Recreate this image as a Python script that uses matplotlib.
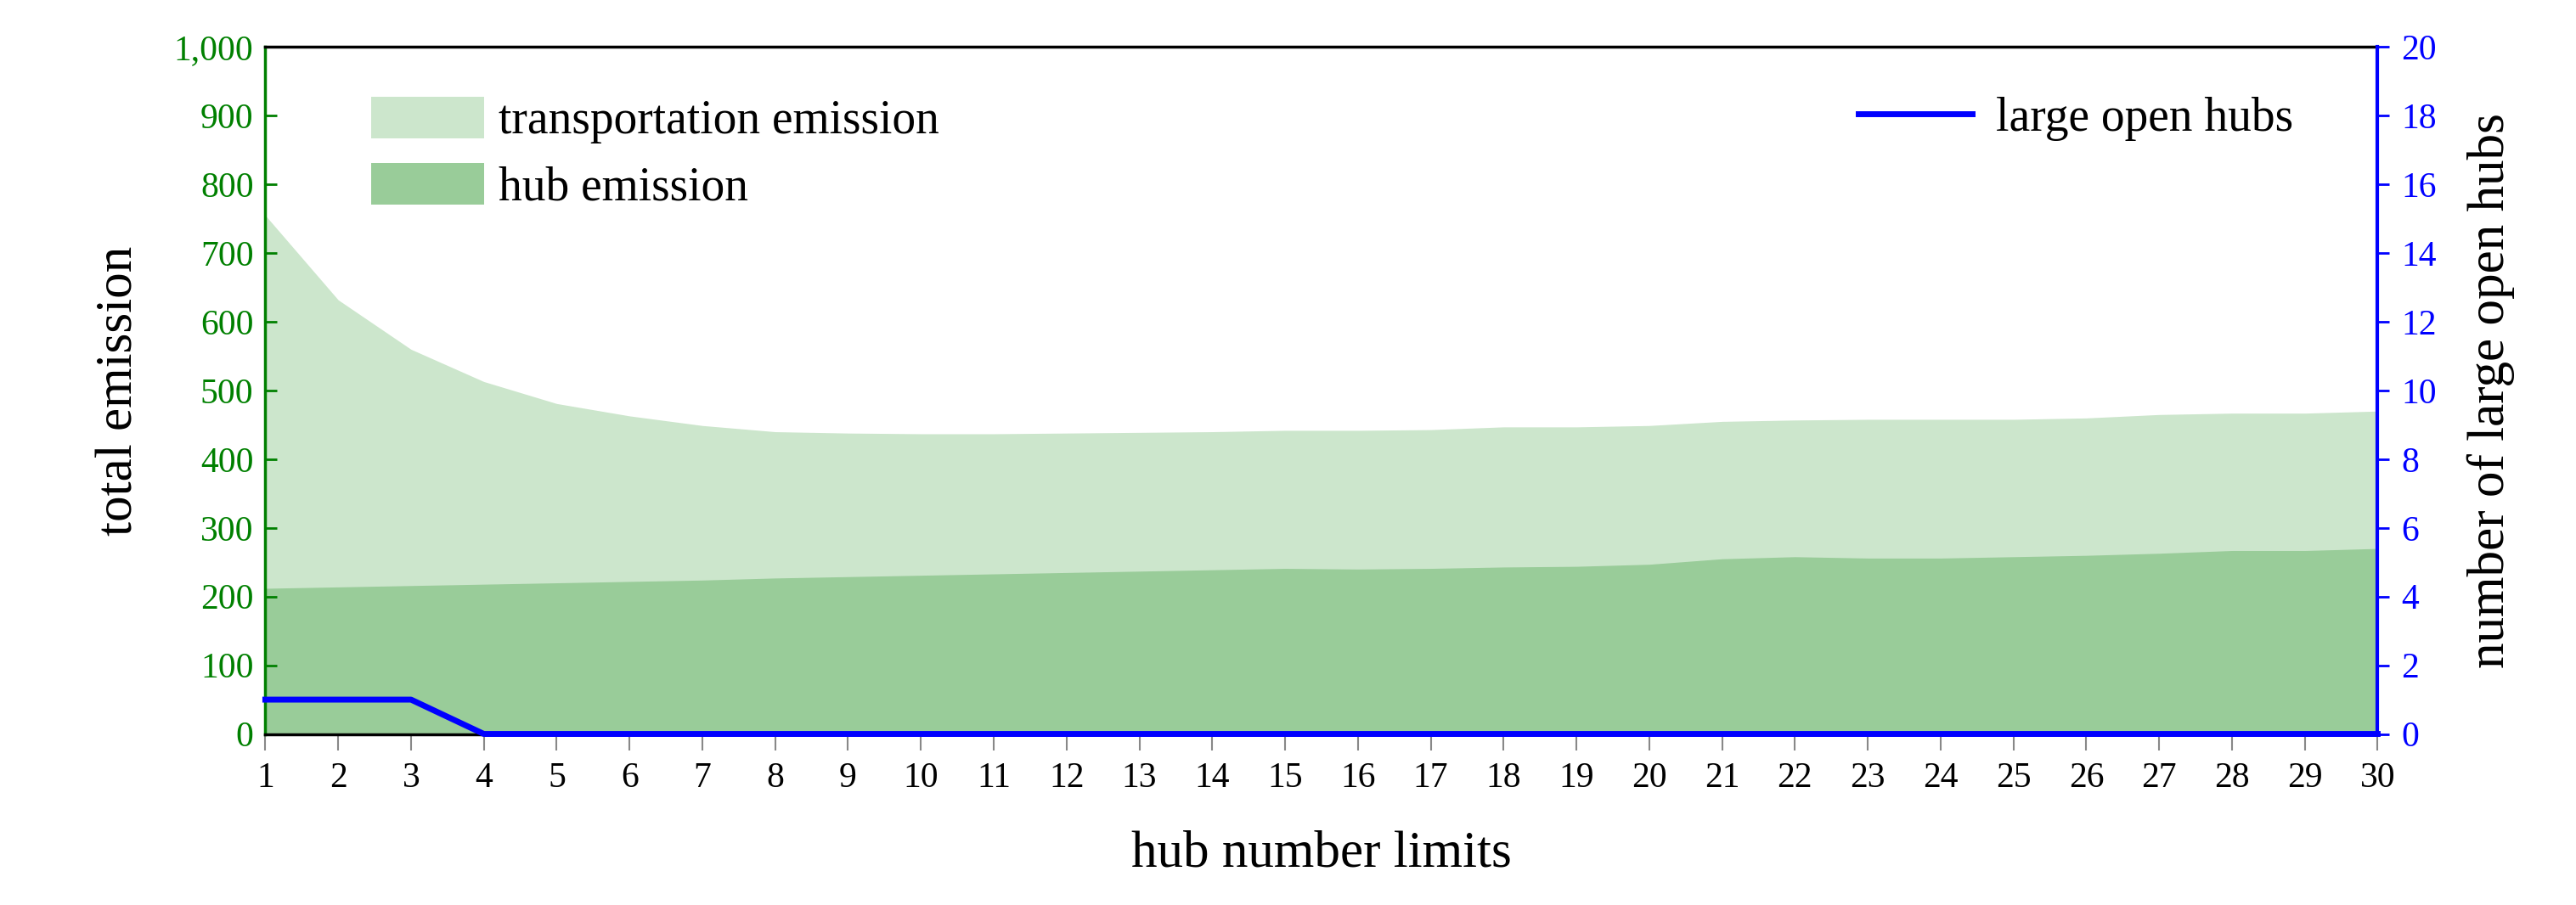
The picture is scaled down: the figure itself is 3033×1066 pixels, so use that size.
import matplotlib
matplotlib.use("Agg")
import matplotlib.pyplot as plt
import numpy as np

GREEN = "#008000"
BLUE = "#0000FF"
LIGHT = "#CCE6CC"
MID = "#99CC99"

hub_limits = list(range(1, 31))
total_emission = [755, 632, 560, 513, 481, 463, 449, 440, 438, 437, 437, 438, 439, 440, 442,
                  442, 443, 447, 447, 449, 455, 457, 458, 458, 458, 460, 465, 467, 467, 470]
hub_emission = [212, 214, 216, 218, 220, 222, 224, 227, 229, 231, 233, 235, 237, 239, 241,
                240, 241, 243, 244, 247, 255, 258, 256, 256, 258, 260, 263, 267, 267, 270]
large_open_hubs = [1, 1, 1] + [0] * 27

plt.rcParams["font.family"] = ["Liberation Serif", "DejaVu Serif"]

fig = plt.figure(figsize=(30.33, 10.66), dpi=100)
ax = fig.add_axes([0.103, 0.189, 0.82, 0.759])
x = np.array(hub_limits)
ax.fill_between(x, 0, total_emission, color=LIGHT, linewidth=0, label="transportation emission")
ax.fill_between(x, 0, hub_emission, color=MID, linewidth=0, label="hub emission")
ax.set_xlim(1, 30)
ax.set_ylim(0, 1000)
ax.set_xticks(x)
ax.set_xticklabels([str(v) for v in hub_limits], fontsize=30)
ax.set_yticks(np.arange(0, 1001, 100))
ax.set_yticklabels([f"{v:,}" for v in range(0, 1001, 100)], fontsize=30, color=GREEN)
ax.tick_params(axis="y", colors=GREEN, length=10, width=2, direction="in", labelcolor=GREEN, pad=10)
ax.tick_params(axis="x", colors="#888888", length=14, width=1.5, direction="out", labelcolor="black", pad=10)
ax.spines["left"].set_color(GREEN)
ax.spines["left"].set_linewidth(2.5)
ax.spines["top"].set_linewidth(2.5)
ax.spines["bottom"].set_linewidth(2.5)
ax.spines["right"].set_visible(False)
ax.set_xlabel("hub number limits", fontsize=44, labelpad=30)
ax.set_ylabel("total emission", fontsize=44, labelpad=26)
ax.legend(loc="upper left", bbox_to_anchor=(0.03, 0.99), frameon=False, fontsize=40,
          handlelength=2.4, handleheight=1.0, labelspacing=0.4, handletextpad=0.3)

ax2 = ax.twinx()
ax2.plot(x, large_open_hubs, color=BLUE, linewidth=5, label="large open hubs", clip_on=False)
ax2.set_ylim(0, 20)
ax2.set_yticks(np.arange(0, 21, 2))
ax2.tick_params(axis="y", colors=BLUE, length=10, width=2, direction="out", labelsize=30,
                labelcolor=BLUE, pad=10)
ax2.spines["right"].set_color(BLUE)
ax2.spines["right"].set_linewidth(3)
ax2.spines["left"].set_visible(False)
ax2.spines["top"].set_visible(False)
ax2.spines["bottom"].set_visible(False)
ax2.set_ylabel("number of large open hubs", fontsize=44, labelpad=26)
ax2.legend(loc="upper right", bbox_to_anchor=(0.98, 0.99), frameon=False, fontsize=40,
           handlelength=2.4, handletextpad=0.5)

fig.savefig("out.png", dpi=100)
